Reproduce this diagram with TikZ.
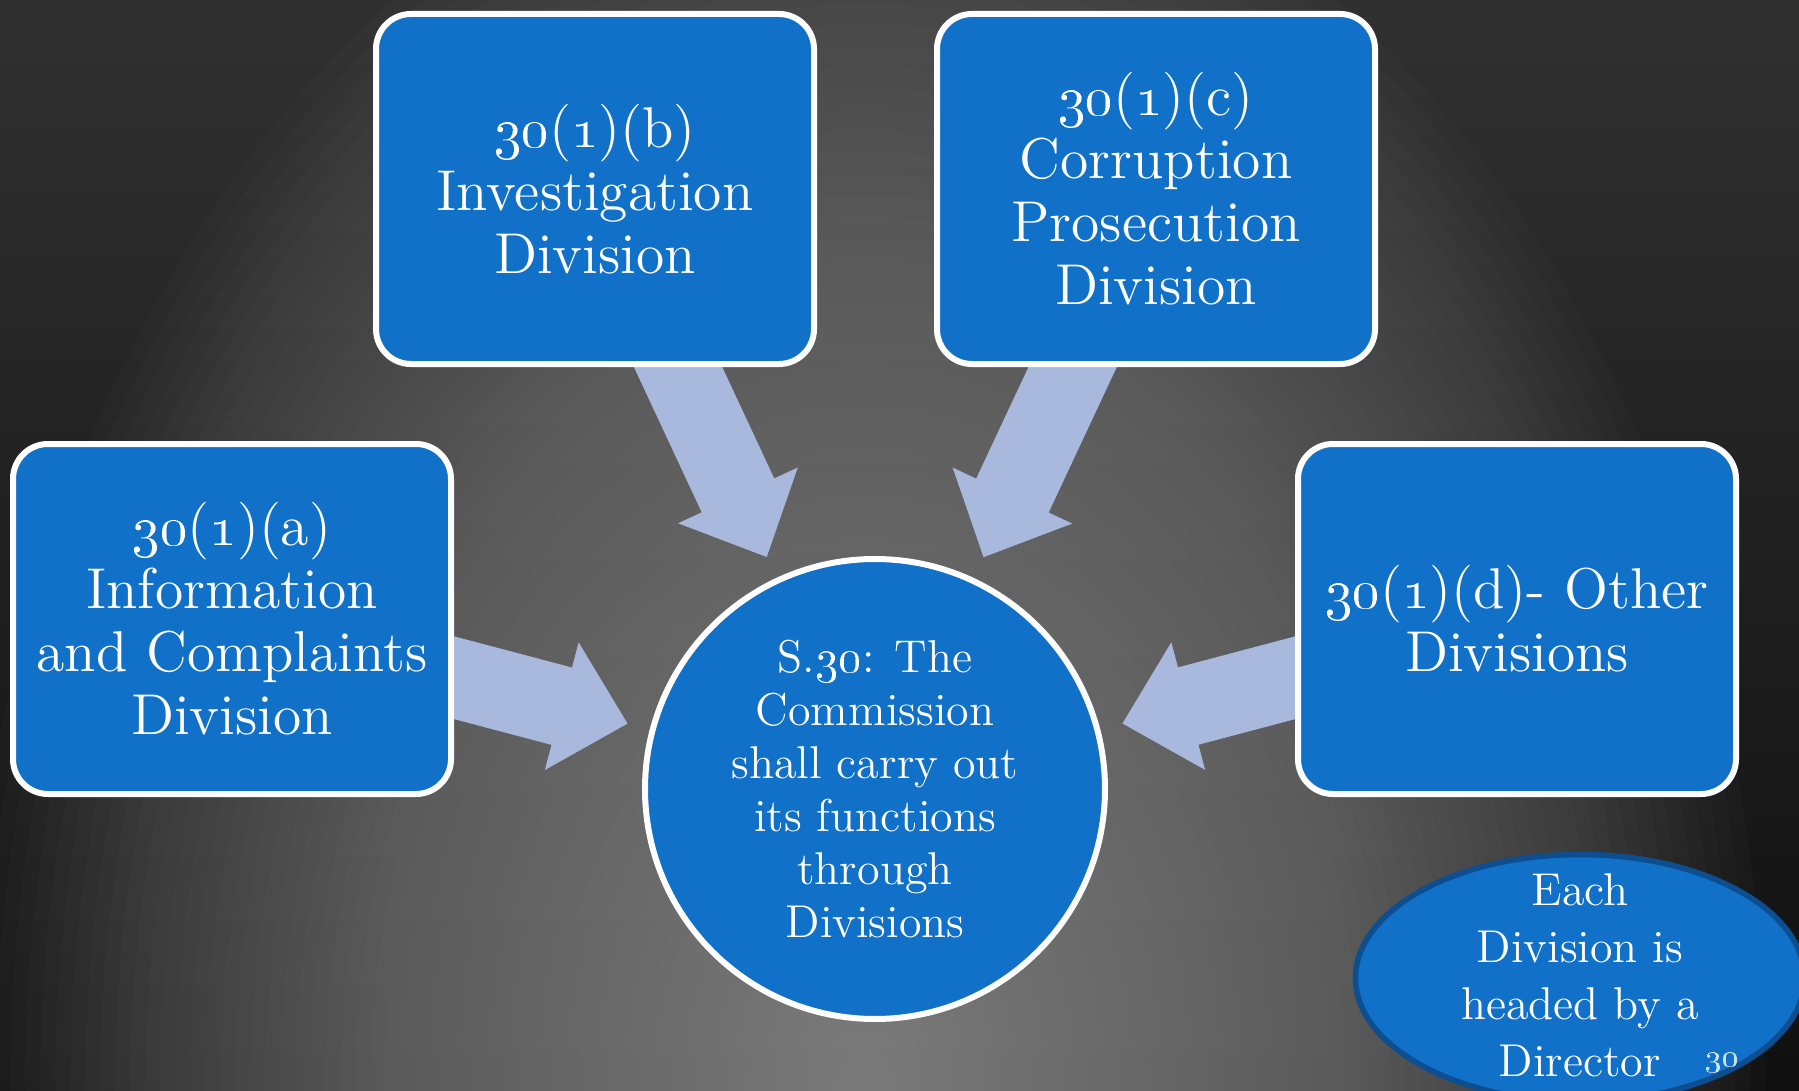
\documentclass[tikz,border=0pt]{standalone}
\usetikzlibrary{calc,shapes.geometric}
\definecolor{boxblue}{RGB}{17,112,199}
\definecolor{arrowblue}{RGB}{169,185,221}
\definecolor{ellborder}{RGB}{12,78,144}
\definecolor{pagecol}{RGB}{205,225,232}
\definecolor{bgtop}{gray}{0.19}
\definecolor{bgmid}{gray}{0.16}
\definecolor{bgbottom}{gray}{0.06}
\definecolor{spotgray}{gray}{0.6}
\pgfdeclarelayer{bg}
\pgfsetlayers{bg,main}
\newcommand{\osn}[1]{\oldstylenums{#1}}
\begin{document}
\begin{tikzpicture}[x=0.25pt,y=-0.25pt,
  divbox/.style={draw=white, line width=1.5pt, fill=boxblue, rounded corners=8.75pt,
    minimum width=109.5pt, minimum height=87.5pt, text=white, align=center,
    font=\fontsize{14.4}{15.75}\selectfont, inner sep=0pt},
  hub/.style={circle, draw=white, line width=1.5pt, fill=boxblue, minimum size=115pt, inner sep=0pt},
  hubtext/.style={text=white, align=center, font=\fontsize{11.5}{13.25}\selectfont, inner sep=0pt},
  note/.style={ellipse, draw=ellborder, line width=1.4pt, fill=boxblue,
    minimum width=112.25pt, minimum height=61.75pt, inner sep=0pt},
  notetext/.style={text=white, align=center, font=\fontsize{11.5}{14.25}\selectfont, inner sep=0pt},
  bigarrow/.style={fill=arrowblue},
  spotlayer/.style={fill=spotgray, fill opacity=0.03},
  pagenum/.style={text=pagecol, font=\fontsize{8}{9}\selectfont, inner sep=0pt}
]
\useasboundingbox (0,0) rectangle (1799,1091);

% nodes
\node[divbox] (a) at (232,619) {\osn{30}(\osn{1})(a)\\Information\\and Complaints\\Division};
\node[divbox] (b) at (595,189) {\osn{30}(\osn{1})(b)\\Investigation\\Division};
\node[divbox] (c) at (1156,189) {\osn{30}(\osn{1})(c)\\Corruption\\Prosecution\\Division};
\node[divbox] (d) at (1517,619) {\osn{30}(\osn{1})(d)- Other\\Divisions};
\node[hub] (hubc) at (875,789) {};
\node[hubtext] (hubt) at (hubc.center) {S.\osn{30}: The\\Commission\\shall carry out\\its functions\\through\\Divisions};
\node[note] (noteell) at (1580,978) {};
\node[notetext] (notet) at (1580,975) {Each\\Division is\\headed by a\\Director};
\node[pagenum] (pg) at (1722,1063) {\osn{30}};

% arrow geometry
\foreach \n in {a,b,c,d}{
  \coordinate (tip\n) at ($(hubc.center)!64pt!(\n.center)$);
  \coordinate (hb\n) at ($(tip\n)!17pt!(\n.center)$);
}

\begin{pgfonlayer}{bg}
  \begin{scope}
    \clip (0,0) rectangle (1799,1091);
    \shade[top color=bgtop, middle color=bgmid, bottom color=bgbottom] (0,0) rectangle (1799,1091);
    \foreach \k in {1,...,60}{
      \fill[spotlayer] (865,1091) ellipse [x radius={15*\k}, y radius={21.33*\k}];
    }
  \end{scope}
  \foreach \n in {a,b,c,d}{
    \fill[bigarrow] ($(\n.center)!10pt!90:(tip\n)$) -- ($(hb\n)!10pt!90:(tip\n)$)
      -- ($(hb\n)!16.5pt!90:(tip\n)$) -- (tip\n) -- ($(hb\n)!16.5pt!-90:(tip\n)$)
      -- ($(hb\n)!10pt!-90:(tip\n)$) -- ($(\n.center)!10pt!-90:(tip\n)$) -- cycle;
  }
\end{pgfonlayer}
\end{tikzpicture}
\end{document}
